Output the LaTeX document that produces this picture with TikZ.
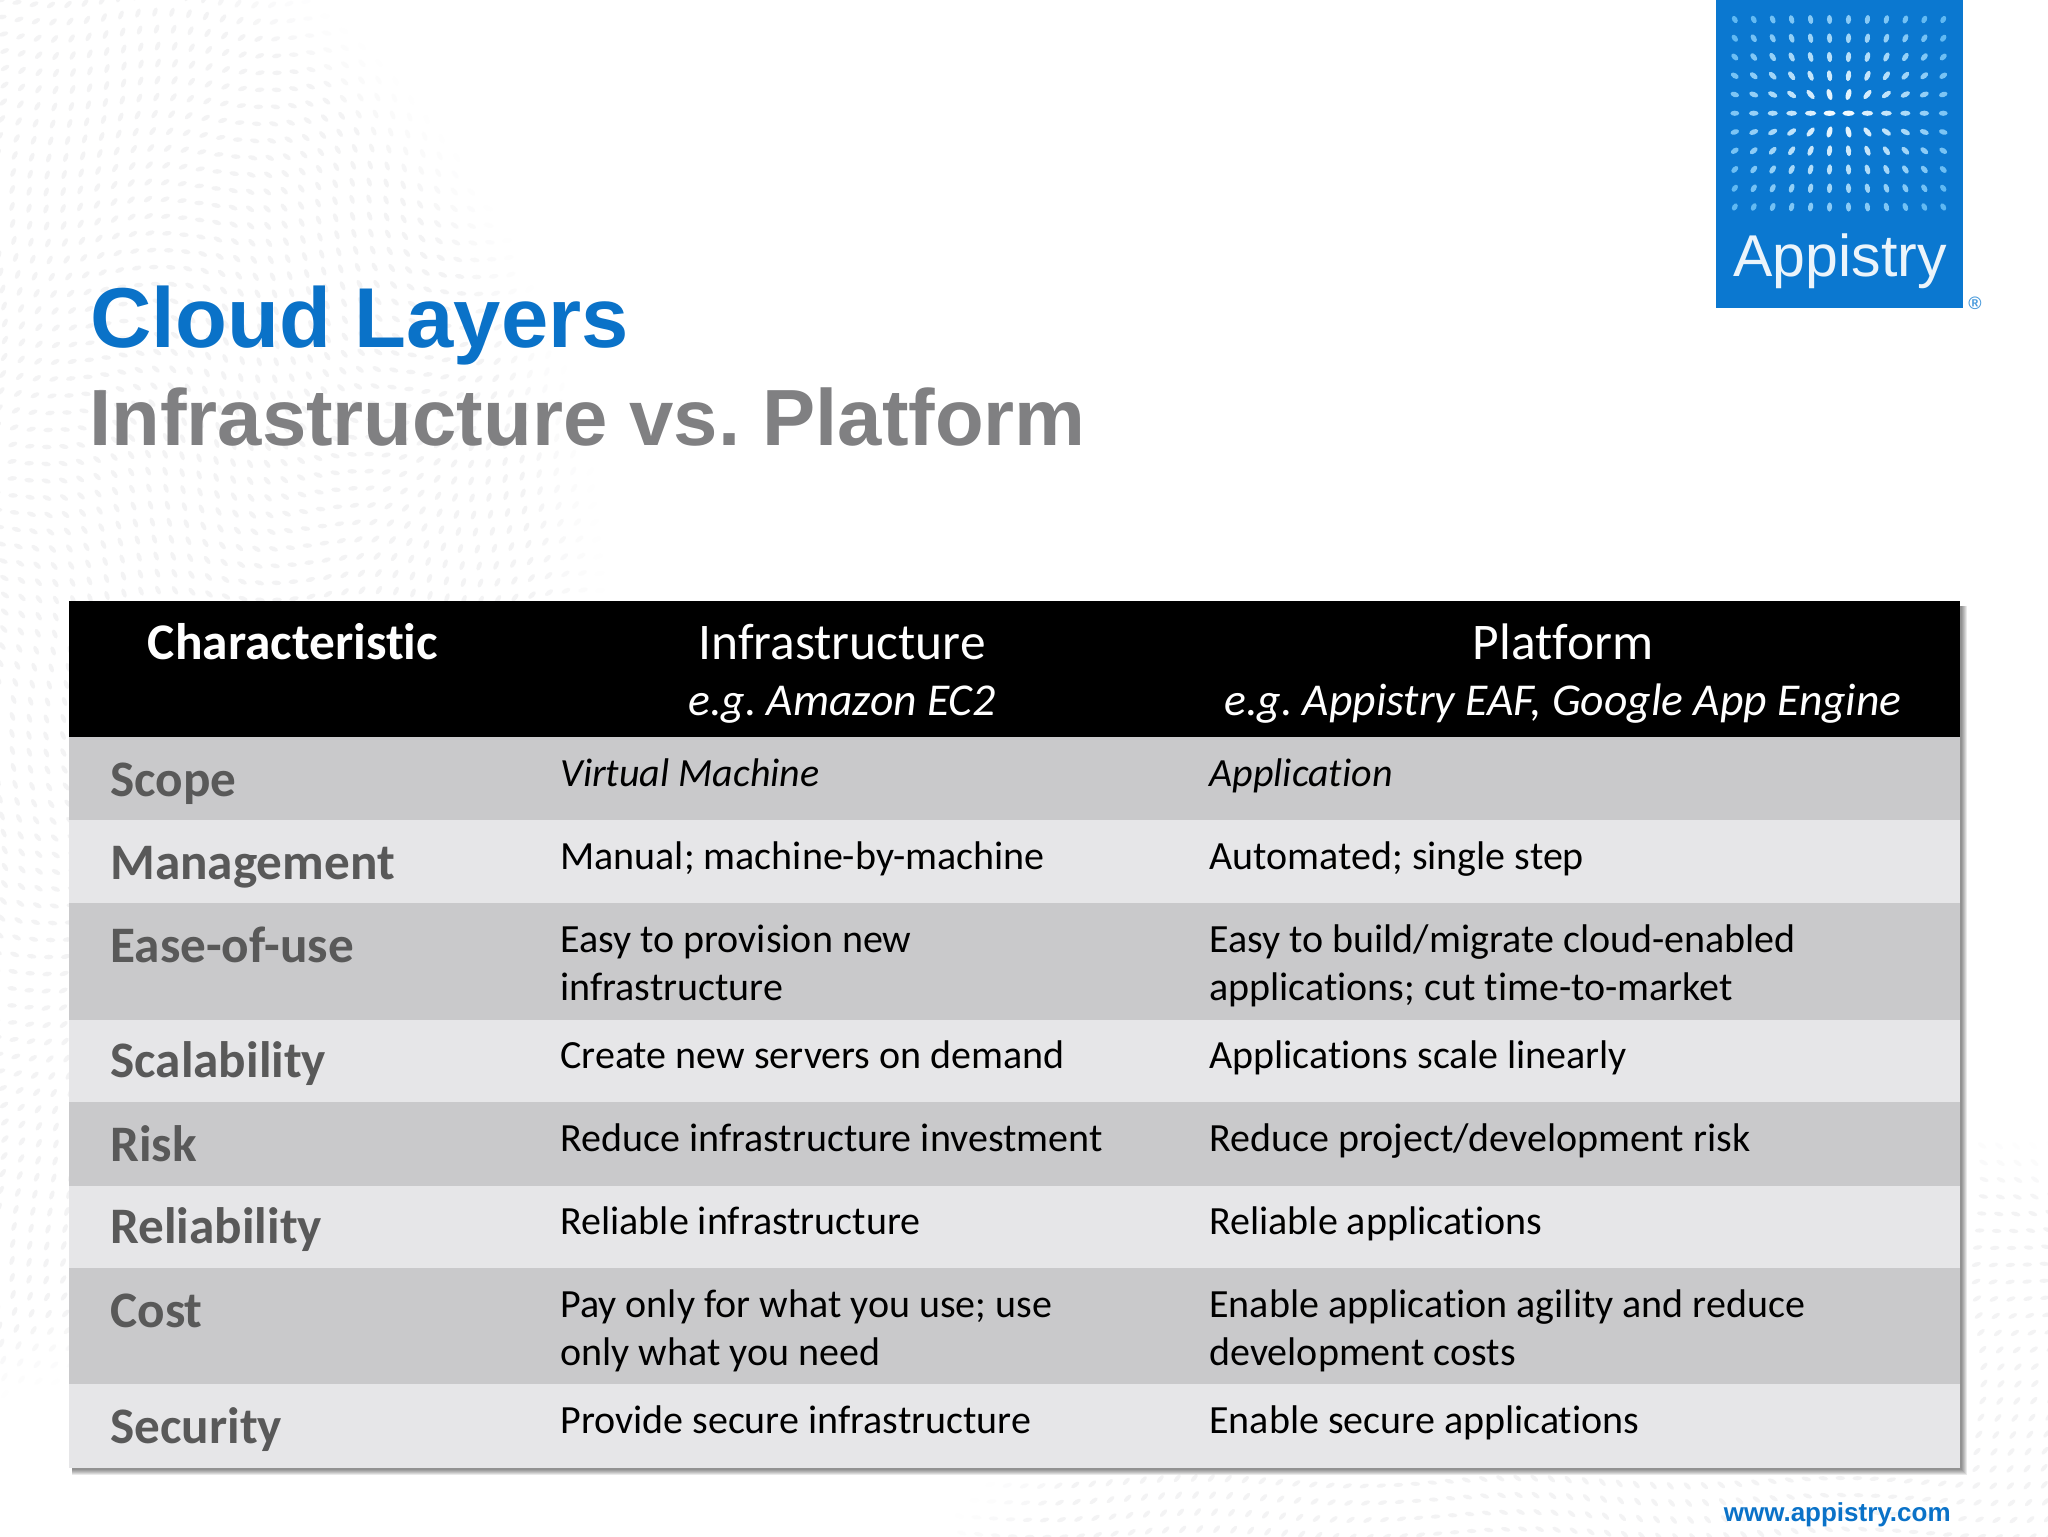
\documentclass[tikz,border=0pt]{standalone}
\usepackage{fontspec}
\setmainfont[Ligatures=NoCommon]{Carlito}
\newfontfamily\arialf{Liberation Sans}
\definecolor{brandblue}{HTML}{0A72C8}
\definecolor{logoblue}{HTML}{0B78D0}
\definecolor{subgrey}{HTML}{808082}
\definecolor{rowdark}{HTML}{C9C9CB}
\definecolor{rowlight}{HTML}{E6E6E8}
\definecolor{charcoal}{HTML}{595959}
\definecolor{dotgrey}{HTML}{F3F3F4}
\definecolor{logodot}{HTML}{5FB8F2}
\tikzset{
  celltext/.style={anchor=base west,inner sep=0,text=black,font=\fontsize{20}{24}\selectfont},
  rowhead/.style={anchor=base west,inner sep=0,text=charcoal,font=\fontsize{25.6}{30}\selectfont\bfseries},
  headtext/.style={anchor=base,inner sep=0,text=white,font=\fontsize{25.7}{30}\selectfont},
  headital/.style={anchor=base,inner sep=0,text=white,font=\fontsize{22.8}{27}\selectfont\itshape},
  bigtitle/.style={anchor=base west,inner sep=0,font=\arialf\fontsize{42.5}{50}\selectfont\bfseries},
}
\frenchspacing
\begin{document}
\begin{tikzpicture}[x=0.5pt,y=-0.5pt]
\useasboundingbox (0,0) rectangle (2048,1536);
\fill[white] (0,0) rectangle (2048,1536);
% faint dot texture, top left
\foreach \i in {0,...,38}{
  \foreach \j in {0,...,84}{
    \pgfmathsetmacro\px{\i*17+5*sin(\j*23)}
    \pgfmathsetmacro\py{\j*17+5*sin(\i*29)}
    \pgfmathsetmacro\rr{veclen(\px+200,\py-620)}
    \pgfmathsetmacro\keep{(\rr<805)&&!((\px>75)&&(\py>605))?1:0}
    \ifdim\keep pt>0.5pt
      \pgfmathsetmacro\op{min(1,(805-\rr)/70)}
      \pgfmathsetmacro\ang{70*sin(\px*0.55+\py*0.35)}
      \fill[dotgrey,opacity=\op] (\px,\py) ellipse [x radius=4.8,y radius=2.3,rotate=\ang];
    \fi
  }
}
% faint dot texture, bottom right
\foreach \i in {0,...,64}{
  \foreach \j in {0,...,24}{
    \pgfmathsetmacro\px{960+\i*17+4*sin(\j*31)}
    \pgfmathsetmacro\py{1125+\j*17+4*sin(\i*19)}
    \pgfmathsetmacro\rr{veclen(\px-1800,\py-2200)}
    \pgfmathsetmacro\keep{(\rr<1085)&&!((\px<1968)&&(\py<1474))?1:0}
    \ifdim\keep pt>0.5pt
      \pgfmathsetmacro\op{min(1,(1085-\rr)/70)}
      \pgfmathsetmacro\ang{50*sin(\px*0.4-\py*0.5)}
      \fill[dotgrey,opacity=\op] (\px,\py) ellipse [x radius=4.8,y radius=2.1,rotate=\ang];
    \fi
  }
}
% logo
\fill[logoblue] (1716,0) rectangle (1963,308);
\foreach \c in {0,...,11}{
  \foreach \r in {0,...,10}{
    \pgfmathsetmacro\dx{(\c-5.5)*18.95}
    \pgfmathsetmacro\dy{(\r-5)*18.75}
    \pgfmathsetmacro\dist{veclen(\dx,\dy)/130}
    \pgfmathsetmacro\mixv{max(0,min(100,100*(1-\dist)))}
    \pgfmathsetmacro\ang{atan2(-\dy*1.8,\dx)}
    \pgfmathsetmacro\lenv{max(3.2,6.2-2.2*\dist)}
    \fill[white!\mixv!logodot] (1839+\dx,113.25+\dy) ellipse [x radius=\lenv,y radius=2.6,rotate=\ang];
  }
}
\node[anchor=base,inner sep=0,text=white!92!logoblue,font=\arialf\fontsize{29.5}{30}\selectfont] (logotext) at (1840,276) {Appistry};
\node[inner sep=0,text=logoblue!75!white,font=\arialf\fontsize{9}{10}\selectfont\bfseries] (logomark) at (1975,303) {®};
% titles
\node[bigtitle,text=brandblue] (title) at (90,347) {Cloud Layers};
\node[bigtitle,text=subgrey,font=\arialf\fontsize{39.85}{48}\selectfont\bfseries] (subtitle) at (89,445) {Infrastructure vs. Platform};
% table shadow
\foreach \k in {7,6,5,4,3,2}{
  \fill[black,opacity=0.085] (72,606) rectangle (1960+\k,1468+\k);
}
% table rows
\fill[black] (69,601) rectangle (1960,737);
\fill[rowdark] (69,737) rectangle (1960,820);
\fill[rowlight] (69,820) rectangle (1960,903);
\fill[rowdark] (69,903) rectangle (1960,1020);
\fill[rowlight] (69,1020) rectangle (1960,1102);
\fill[rowdark] (69,1102) rectangle (1960,1186);
\fill[rowlight] (69,1186) rectangle (1960,1268);
\fill[rowdark] (69,1268) rectangle (1960,1384);
\fill[rowlight] (69,1384) rectangle (1960,1468);
% header
\node[headtext,font=\fontsize{25.7}{30}\selectfont\bfseries] (hchar) at (293,659.5) {Characteristic};
\node[headtext] (hinf) at (842,659.5) {Infrastructure};
\node[headtext] (hplat) at (1563,659.5) {Platform};
\node[headital] (hinfe) at (842,715.5) {e.g. Amazon EC2};
\node[headital] (hplate) at (1563,715.5) {e.g. Appistry EAF, Google App Engine};
% first column
\node[rowhead] (r1) at (110,796.5) {Scope};
\node[rowhead] (r2) at (110,879.5) {Management};
\node[rowhead] (r3) at (110,962.5) {Ease-of-use};
\node[rowhead] (r4) at (110,1077.5) {Scalability};
\node[rowhead] (r5) at (110,1161.5) {Risk};
\node[rowhead] (r6) at (110,1243.5) {Reliability};
\node[rowhead] (r7) at (110,1327.5) {Cost};
\node[rowhead] (r8) at (110,1443.5) {Security};
% infrastructure column
\node[celltext,font=\fontsize{20}{24}\selectfont\itshape] (a1) at (560,786) {Virtual Machine};
\node[celltext] (a2) at (560,869) {Manual; machine-by-machine};
\node[celltext] (a3) at (560,952) {Easy to provision new};
\node[celltext] (a3b) at (560,1000) {infrastructure};
\node[celltext] (a4) at (560,1068) {Create new servers on demand};
\node[celltext] (a5) at (560,1151) {Reduce infrastructure investment};
\node[celltext] (a6) at (560,1234) {Reliable infrastructure};
\node[celltext] (a7) at (560,1317) {Pay only for what you use; use};
\node[celltext] (a7b) at (560,1365) {only what you need};
\node[celltext] (a8) at (560,1433) {Provide secure infrastructure};
% platform column
\node[celltext,font=\fontsize{20}{24}\selectfont\itshape] (b1) at (1209,786) {Application};
\node[celltext] (b2) at (1209,869) {Automated; single step};
\node[celltext] (b3) at (1209,952) {Easy to build/migrate cloud-enabled};
\node[celltext] (b3b) at (1209,1000) {applications; cut time-to-market};
\node[celltext] (b4) at (1209,1068) {Applications scale linearly};
\node[celltext] (b5) at (1209,1151) {Reduce project/development risk};
\node[celltext] (b6) at (1209,1234) {Reliable applications};
\node[celltext] (b7) at (1209,1317) {Enable application agility and reduce};
\node[celltext] (b7b) at (1209,1365) {development costs};
\node[celltext] (b8) at (1209,1433) {Enable secure applications};
% footer
\node[anchor=base east,inner sep=0,text=brandblue,font=\arialf\fontsize{13}{15}\selectfont\bfseries] (url) at (1951,1521) {www.appistry.com};
\end{tikzpicture}
\end{document}
